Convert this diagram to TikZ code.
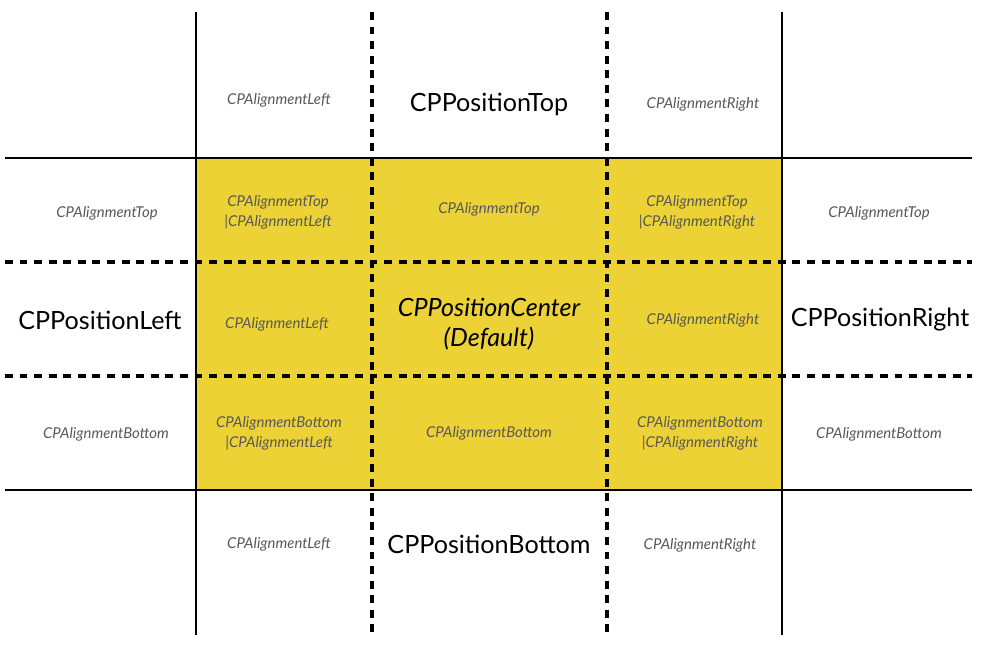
\documentclass[tikz,border=0pt]{standalone}
\usepackage{fontspec}
\setmainfont{Lato}
\usetikzlibrary{positioning}

\definecolor{cellyellow}{RGB}{236,210,52}
\definecolor{labelgray}{RGB}{88,88,88}

\begin{document}
\begin{tikzpicture}[x=0.02cm,y=-0.02cm,
    every node/.style={align=center,inner sep=2pt},
    small/.style={font=\itshape\fontsize{8.5}{11.4}\selectfont,text=labelgray},
    big/.style={font=\fontsize{14.3}{16}\selectfont},
    solidline/.style={line width=1.7pt},
    dashline/.style={line width=1.9pt,dash pattern=on 4.5pt off 3.8pt}
]
\useasboundingbox (0,0) rectangle (985,645);
\fill[cellyellow] (196,158) rectangle (782,490);
% grid
\draw[solidline] (196,12) -- (196,635);
\draw[solidline] (782,12) -- (782,635);
\draw[dashline] (372,12) -- (372,635);
\draw[dashline] (607,12) -- (607,635);
\draw[solidline] (5,158) -- (972,158);
\draw[solidline] (5,490) -- (972,490);
\draw[dashline] (5,262) -- (972,262);
\draw[dashline] (5,376) -- (972,376);
\draw[solidline] (196,158) rectangle (782,490);
% top row
\node[small] (tl) at (279,100) {CPAlignmentLeft};
\node[big] (top) at (489,104) {CPPositionTop};
\node[small] (tr) at (703,104) {CPAlignmentRight};
% upper row
\node[small] (ul) at (107,213) {CPAlignmentTop};
\node[small] (ua) at (278,212) {CPAlignmentTop\\|CPAlignmentLeft};
\node[small] (ub) at (489,209) {CPAlignmentTop};
\node[small] (uc) at (697,212) {CPAlignmentTop\\|CPAlignmentRight};
\node[small] (ur) at (879,213) {CPAlignmentTop};
% middle row
\node[big,font=\itshape\fontsize{14.3}{17}\selectfont] (center) at (489,324) {CPPositionCenter\\(Default)};
\node[big] (left) at (100,320) {CPPositionLeft};
\node[small] (ma) at (277,324) {CPAlignmentLeft};
\node[small] (mc) at (703,320) {CPAlignmentRight};
\node[big] (right) at (880,320) {CPPositionRight};
% lower row
\node[small] (ll) at (106,434) {CPAlignmentBottom};
\node[small] (la) at (279,433) {CPAlignmentBottom\\|CPAlignmentLeft};
\node[small] (lb) at (489,433) {CPAlignmentBottom};
\node[small] (lc) at (700,433) {CPAlignmentBottom\\|CPAlignmentRight};
\node[small] (lr) at (879,434) {CPAlignmentBottom};
% bottom row
\node[small] (bl) at (279,544) {CPAlignmentLeft};
\node[big] (bottom) at (489,544) {CPPositionBottom};
\node[small] (br) at (700,545) {CPAlignmentRight};
\end{tikzpicture}
\end{document}
